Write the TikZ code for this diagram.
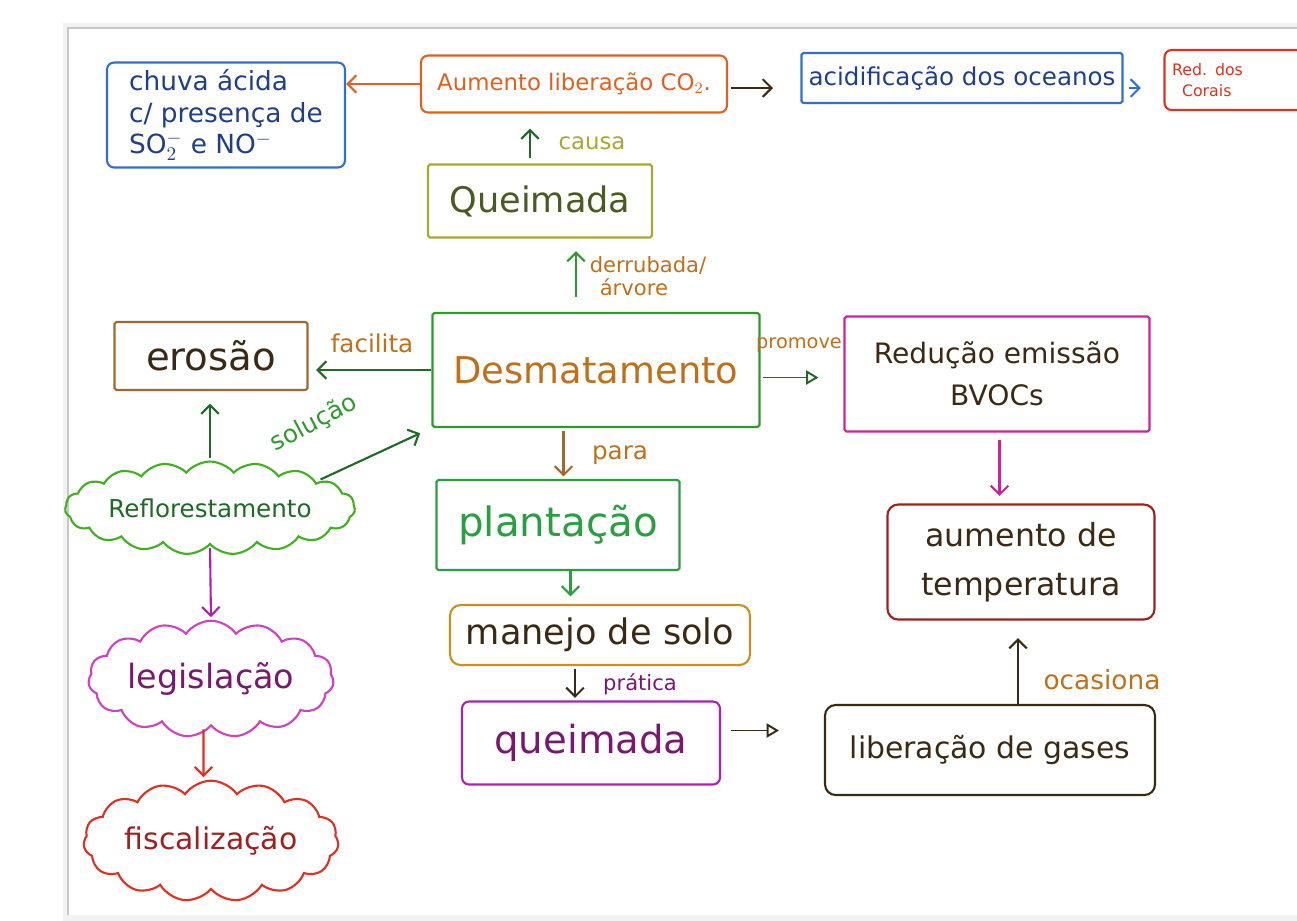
\documentclass[tikz,border=0pt]{standalone}
\usepackage{fontspec}
\setmainfont{DejaVu Sans}
\usetikzlibrary{arrows.meta,shapes.symbols}

\definecolor{cBlue}{HTML}{2F6FD0}
\definecolor{cBlueTx}{HTML}{1F3F8A}
\definecolor{cOrange}{HTML}{E06020}
\definecolor{cRed}{HTML}{E03020}
\definecolor{cOlive}{HTML}{A8A830}
\definecolor{cOliveTx}{HTML}{4A5A20}
\definecolor{cGreen}{HTML}{2E9A2E}
\definecolor{cDkGreen}{HTML}{1F6A25}
\definecolor{cBrownTx}{HTML}{C07018}
\definecolor{cBrown}{HTML}{A0682A}
\definecolor{cDark}{HTML}{3A2A15}
\definecolor{cMagenta}{HTML}{D020A0}
\definecolor{cDkRed}{HTML}{A02020}
\definecolor{cLime}{HTML}{40B020}
\definecolor{cPink}{HTML}{D040C0}
\definecolor{cGold}{HTML}{C89020}
\definecolor{cPlant}{HTML}{28A040}
\definecolor{cPurple}{HTML}{B020B0}
\definecolor{cPurpleTx}{HTML}{7A1870}

\tikzset{
  box/.style={draw, line width=1.2pt, rounded corners=4pt, align=center, inner sep=2pt},
  cloudbox/.style={cloud, cloud puffs=15, cloud puff arc=110, aspect=4, draw,
    line width=1.2pt, align=center, inner sep=1pt},
  arr/.style={-{Straight Barb[length=5pt,width=10pt]}, line width=1.2pt},
  tri/.style={-{Triangle[open,length=7pt,width=8pt]}, line width=1.1pt},
  lbl/.style={align=left, inner sep=1pt},
  fs/.style={font=\fontsize{#1}{\the\dimexpr #1pt*6/5\relax}\selectfont}
}

\begin{document}
\begin{tikzpicture}[x=0.02cm, y=-0.02cm]
\useasboundingbox (0,0) rectangle (1297,920);
% sheet of paper
\fill[black!5] (63,23) rectangle (1297,921);
\fill[white] (68,28) rectangle (1297,915);
\draw[black!22, line width=0.8pt] (68,915) -- (68,28) -- (1297,28);

% top row
\node[box, draw=cBlue, text=cBlueTx, font=\fontsize{15}{18}\selectfont, minimum width=4.76cm, minimum height=2.1cm, align=left]
  (chuva) at (226,115) {chuva ácida\\c/ presença de\\SO$_2^-$ e NO$^-$};
\node[box, draw=cOrange, text=cOrange, fs=13, minimum width=6.12cm, minimum height=1.14cm]
  (aumCO) at (574,84) {Aumento liberação CO$_2$.};
\node[box, draw=cBlue, text=cBlueTx, fs=14, minimum width=6.42cm, minimum height=1.0cm, rounded corners=1pt]
  (acid) at (962,78) {acidificação dos oceanos};
\node[box, draw=cRed, text=cRed, font=\fontsize{9}{12}\selectfont, minimum width=2.9cm, minimum height=1.2cm, text width=2.6cm, align=left]
  (corais) at (1237,80) {Red. dos\\\hspace*{0.2cm}Corais};

% central column
\node[box, draw=cOlive, text=cOliveTx, fs=20, minimum width=4.48cm, minimum height=1.46cm, rounded corners=1pt]
  (queim1) at (540,201) {Queimada};
\node[box, draw=cGreen, text=cBrownTx, fs=21, minimum width=6.54cm, minimum height=2.28cm, rounded corners=1pt]
  (desm) at (596,370) {Desmatamento};
\node[box, draw=cPlant, text=cPlant, fs=23, minimum width=4.86cm, minimum height=1.8cm, rounded corners=1pt]
  (plant) at (558,525) {plantação};
\node[box, draw=cGold, text=cDark, fs=20, minimum width=6.0cm, minimum height=1.2cm, rounded corners=6pt]
  (manejo) at (600,635) {manejo de solo};
\node[box, draw=cPurple, text=cPurpleTx, fs=22, minimum width=5.16cm, minimum height=1.66cm]
  (queim2) at (591,743) {queimada};

% right column
\node[box, draw=cMagenta, text=cDark, font=\fontsize{16}{24}\selectfont, minimum width=6.1cm, minimum height=2.3cm, rounded corners=1pt]
  (bvoc) at (997,374) {Redução emissão\\BVOCs};
\node[box, draw=cDkRed, text=cDark, font=\fontsize{18}{28}\selectfont, minimum width=5.34cm, minimum height=2.3cm, rounded corners=6pt]
  (temp) at (1021,562) {aumento de\\temperatura};
\node[box, draw=cDark, text=cDark, fs=17, minimum width=6.6cm, minimum height=1.8cm, rounded corners=6pt]
  (gases) at (990,750) {liberação de gases};

% left column
\node[box, draw=cBrown, text=cDark, fs=22, minimum width=3.86cm, minimum height=1.36cm, rounded corners=1pt]
  (erosao) at (211,356) {erosão};
\node[cloudbox, draw=cLime, text=cDkGreen, fs=14, cloud puffs=19, cloud puff arc=100, inner sep=0pt,
  minimum width=5.8cm, minimum height=1.3cm]
  (reflor) at (210,508) {Reflorestamento};
\node[cloudbox, draw=cPink, text=cPurpleTx, fs=19, aspect=2.6, minimum width=4.7cm, minimum height=2.1cm]
  (legis) at (211,679) {legislação};
\node[cloudbox, draw=cRed, text=cDkRed, fs=17, aspect=2.6, minimum width=5.1cm, minimum height=2.0cm]
  (fisc) at (211,841) {fiscalização};

% connectors
\draw[arr, cOrange] (aumCO.west) -- (aumCO.west -| chuva.east);
\draw[arr, cDark, shorten <=0.05cm, shorten >=0.55cm] ([yshift=-0.08cm]aumCO.east) -- ([yshift=-0.08cm]aumCO.east -| acid.west);
\draw[arr, cBlue, shorten <=0.1cm, shorten >=0.45cm] ([yshift=-0.2cm]acid.east) -- ([yshift=-0.2cm]acid.east -| corais.west);

\draw[arr, cDkGreen, shorten <=0.1cm, shorten >=0.3cm] ([xshift=-0.2cm]queim1.north) -- ([xshift=-0.2cm]queim1.north |- aumCO.south);
\node[lbl, text=cOlive, fs=13] (lcausa) at (592,143) {causa};

\draw[arr, cGreen, shorten <=0.3cm, shorten >=0.25cm] ([xshift=0.72cm]desm.north -| queim1.north) -- ([xshift=0.72cm]queim1.south);
\node[lbl, text=cBrownTx, font=\fontsize{12}{13}\selectfont] (lderr) at (648,276) {derrubada/\\\hspace*{0.2cm}árvore};

\draw[arr, cDkGreen, shorten >=0.15cm] (desm.west) -- (desm.west -| erosao.east);
\node[lbl, text=cBrownTx, fs=14] (lfacil) at (372,343) {facilita};

\draw[tri, cDkGreen, shorten <=0.05cm, shorten >=0.5cm] ([yshift=-0.15cm]desm.east) -- ([yshift=-0.15cm]desm.east -| bvoc.west);
\node[lbl, text=cBrownTx, fs=11] (lprom) at (799,345) {promove};

\draw[arr, cBrown, shorten <=0.05cm, shorten >=0.05cm] ([xshift=-0.65cm]desm.south) -- ([xshift=-0.65cm]desm.south |- plant.north);
\node[lbl, text=cBrownTx, fs=14] (lpara) at (620,455) {para};

\draw[arr, cPlant, shorten >=0.15cm] ([xshift=0.25cm]plant.south) -- ([xshift=0.25cm]plant.south |- manejo.north);

\draw[arr, cDark, shorten <=0.05cm, shorten >=0.05cm] ([xshift=-0.5cm]manejo.south) -- ([xshift=-0.5cm]manejo.south |- queim2.north);
\node[lbl, text=cPurpleTx, fs=12] (lprat) at (640,684) {prática};

\draw[tri, cDark, shorten <=0.2cm, shorten >=0.9cm] ([yshift=0.25cm]queim2.east) -- ([yshift=0.25cm]queim2.east -| gases.west);

\draw[arr, cDark, shorten >=0.35cm] ([xshift=0.56cm]gases.north) -- ([xshift=0.56cm]gases.north |- temp.south);
\node[lbl, text=cBrownTx, fs=15] (locas) at (1102,680) {ocasiona};

\draw[arr, cMagenta, shorten <=0.15cm, shorten >=0.15cm] ([xshift=0.05cm]bvoc.south) -- ([xshift=0.05cm]bvoc.south |- temp.north);

\draw[arr, cDkGreen, shorten <=0.05cm, shorten >=0.25cm] (reflor.north) -- (reflor.north |- erosao.south);
\draw[arr, cDkGreen, shorten <=0.1cm, shorten >=0.25cm] (reflor.14) -- (desm.south west);
\node[lbl, text=cGreen, fs=14, rotate=28] (lsol) at (314,423) {solução};

\draw[arr, cPurple, shorten <=0.05cm, shorten >=0.05cm] (reflor.south) -- (legis.north);
\draw[arr, cRed, shorten <=0.05cm, shorten >=0.05cm] ([xshift=-0.15cm]legis.south) -- ([xshift=-0.15cm]fisc.north);
\end{tikzpicture}
\end{document}
